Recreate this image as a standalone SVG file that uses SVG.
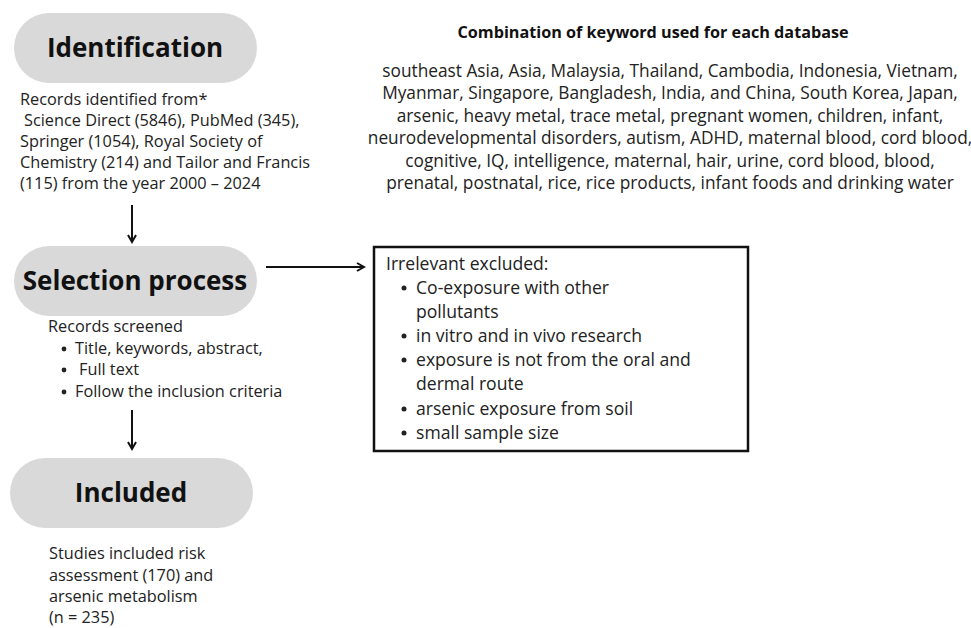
<svg xmlns="http://www.w3.org/2000/svg" width="971" height="628" viewBox="0 0 971 628">
<style>
.pill{fill:#d9d9d9;}
.title{font-family:"Open Sans","Liberation Sans",sans-serif;font-weight:700;font-size:26px;fill:#111;text-anchor:middle;}
.t{font-family:"Open Sans","Liberation Sans",sans-serif;font-size:16.3px;fill:#222;}
.b{font-family:"Open Sans","Liberation Sans",sans-serif;font-size:17.6px;fill:#222;}
.k{font-family:"Open Sans","Liberation Sans",sans-serif;font-size:17.3px;fill:#222;text-anchor:middle;}
.h{font-family:"Open Sans","Liberation Sans",sans-serif;font-weight:700;font-size:16.2px;fill:#111;text-anchor:middle;}
.line{stroke:#111;stroke-width:2;fill:none;}
.dot{fill:#222;}
</style>
<defs>
<marker id="ah" markerWidth="10" markerHeight="10" refX="8" refY="5" orient="auto" markerUnits="userSpaceOnUse">
<path d="M1,1 L8,5 L1,9" fill="none" stroke="#111" stroke-width="2"/>
</marker>
</defs>
<rect width="971" height="628" fill="#fff"/>

<g id="identification">
<rect class="pill" x="14" y="13" width="243" height="70" rx="35"/>
<text class="title" x="135" y="57">Identification</text>
<text class="t" x="20" y="105">Records identified from*</text>
<text class="t" x="24" y="126">Science Direct (5846), PubMed (345),</text>
<text class="t" x="20" y="147">Springer (1054), Royal Society of</text>
<text class="t" x="20" y="168">Chemistry (214) and Tailor and Francis</text>
<text class="t" x="20" y="189">(115) from the year 2000 – 2024</text>
</g>

<g id="selection">
<rect class="pill" x="14" y="246" width="243" height="70" rx="35"/>
<text class="title" x="135" y="290">Selection process</text>
<text class="t" x="48" y="332">Records screened</text>
<circle class="dot" cx="64" cy="349" r="2.4"/>
<text class="t" x="75" y="354">Title, keywords, abstract,</text>
<circle class="dot" cx="64" cy="370" r="2.4"/>
<text class="t" x="79" y="375">Full text</text>
<circle class="dot" cx="64" cy="392" r="2.4"/>
<text class="t" x="75" y="397">Follow the inclusion criteria</text>
</g>

<g id="included">
<rect class="pill" x="10" y="458" width="243" height="70" rx="35"/>
<text class="title" x="131" y="502">Included</text>
<text class="t" x="49" y="559">Studies included risk</text>
<text class="t" x="49" y="581">assessment (170) and</text>
<text class="t" x="49" y="602">arsenic metabolism</text>
<text class="t" x="49" y="623">(n = 235)</text>
</g>

<g id="excluded">
<rect x="374" y="247" width="374" height="204" fill="#fff" stroke="#111" stroke-width="2.5"/>
<text class="b" x="386" y="270">Irrelevant excluded:</text>
<circle class="dot" cx="404" cy="288" r="2.5"/>
<text class="b" x="416" y="294">Co-exposure with other</text>
<text class="b" x="416" y="318">pollutants</text>
<circle class="dot" cx="404" cy="336" r="2.5"/>
<text class="b" x="416" y="342">in vitro and in vivo research</text>
<circle class="dot" cx="404" cy="360" r="2.5"/>
<text class="b" x="416" y="366">exposure is not from the oral and</text>
<text class="b" x="416" y="390">dermal route</text>
<circle class="dot" cx="404" cy="409" r="2.5"/>
<text class="b" x="416" y="415">arsenic exposure from soil</text>
<circle class="dot" cx="404" cy="433" r="2.5"/>
<text class="b" x="416" y="439">small sample size</text>
</g>

<g id="keywords">
<text class="h" x="653" y="38">Combination of keyword used for each database</text>
<text class="k" x="670" y="77">southeast Asia, Asia, Malaysia, Thailand, Cambodia, Indonesia, Vietnam,</text>
<text class="k" x="670" y="99">Myanmar, Singapore, Bangladesh, India, and China, South Korea, Japan,</text>
<text class="k" x="670" y="122">arsenic, heavy metal, trace metal, pregnant women, children, infant,</text>
<text class="k" x="670" y="144">neurodevelopmental disorders, autism, ADHD, maternal blood, cord blood,</text>
<text class="k" x="670" y="167">cognitive, IQ, intelligence, maternal, hair, urine, cord blood, blood,</text>
<text class="k" x="670" y="189">prenatal, postnatal, rice, rice products, infant foods and drinking water</text>
</g>

<g id="connectors">
<line class="line" x1="132" y1="205" x2="132" y2="242" marker-end="url(#ah)"/>
<line class="line" x1="132" y1="410" x2="132" y2="449" marker-end="url(#ah)"/>
<line class="line" x1="266" y1="267" x2="364" y2="267" marker-end="url(#ah)"/>
</g>
</svg>
